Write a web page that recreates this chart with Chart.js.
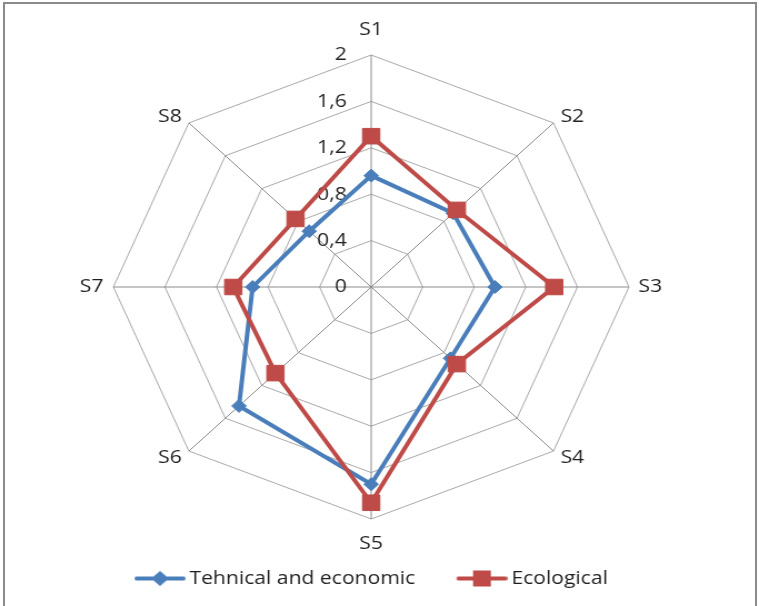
<!DOCTYPE html>
<html>
<head>
<meta charset="utf-8">
<script src="https://cdn.jsdelivr.net/npm/chart.js@4/dist/chart.umd.min.js"></script>
<style>
  html, body { margin: 0; padding: 0; background: #ffffff; overflow: hidden; }
  #wrap { position: relative; width: 759px; height: 606px; }
  #frame {
    position: absolute; left: 3px; top: 2px; width: 754px; height: 700px;
    box-sizing: border-box; border: 2px solid #8a8a8a; border-bottom: none;
    pointer-events: none;
  }
</style>
</head>
<body>
<div id="wrap">
  <!-- drawn at 683 px wide and widened to 759 px by its inline style -->
  <canvas id="chart" width="683" height="606" style="display:block;width:759px;height:606px;"></canvas>
  <div id="frame"></div>
</div>
<script>
const categories = ['S1', 'S2', 'S3', 'S4', 'S5', 'S6', 'S7', 'S8'];
const seriesNames = ['Tehnical and economic', 'Ecological'];
const techEconomic = [0.96, 0.90, 0.96, 0.87, 1.70, 1.45, 0.92, 0.68];
const ecological = [1.30, 0.94, 1.42, 0.94, 1.86, 1.05, 1.07, 0.83];
const ringLabels = ['0', '0,4', '0,8', '1,2', '1,6', '2'];

const BLUE = '#4a7ebb';
const RED = '#be4b48';
const TEXT = '#1f1f1f';
const FONT = 'Open Sans';
const FONT_SIZE = 19;

Chart.defaults.font.family = FONT;

// legend key: a short line with the series marker in the middle
function legendGlyph(color, shape) {
  const c = document.createElement('canvas');
  c.width = 64; c.height = 20;
  const g = c.getContext('2d');
  g.strokeStyle = color; g.lineWidth = 4; g.lineCap = 'round';
  g.beginPath(); g.moveTo(20, 10); g.lineTo(62, 10); g.stroke();
  g.fillStyle = color;
  g.beginPath();
  if (shape === 'diamond') {
    g.moveTo(33, 10); g.lineTo(41, 2.5); g.lineTo(49, 10); g.lineTo(41, 17.5); g.closePath();
  } else {
    g.rect(33, 2, 16, 16);
  }
  g.fill();
  return c;
}
const glyphs = [legendGlyph(BLUE, 'diamond'), legendGlyph(RED, 'square')];

// value labels of the rings, set just left of the vertical spoke
const ringValues = {
  id: 'ringValues',
  beforeDatasetsDraw(chart) {
    const s = chart.scales.r;
    const ctx = chart.ctx;
    ctx.save();
    ctx.font = FONT_SIZE + 'px "' + FONT + '"';
    ctx.fillStyle = TEXT;
    ctx.textAlign = 'right';
    ctx.textBaseline = 'middle';
    s.ticks.forEach((t, i) => {
      const d = s.getDistanceFromCenterForValue(t.value);
      ctx.fillText(ringLabels[i], s.xCenter - 22, s.yCenter - d);
    });
    ctx.restore();
  }
};

// centre the visible legend row (keys carry a blank lead on their left)
const legendShift = {
  id: 'legendShift',
  afterLayout(chart) {
    if (chart.legend) { chart.legend.left -= 6; chart.legend.right -= 6; }
  }
};

const labelPadding = [25, 9, 8.6, 9, 25, 9, 9, 9];

new Chart(document.getElementById('chart'), {
  type: 'radar',
  data: {
    labels: categories,
    datasets: [
      {
        label: seriesNames[0],
        data: techEconomic,
        borderColor: BLUE,
        backgroundColor: BLUE,
        borderWidth: 4,
        fill: false,
        pointStyle: 'rectRot',
        pointRadius: 6.5,
        pointBorderWidth: 1,
        pointBackgroundColor: BLUE,
        pointBorderColor: BLUE,
        order: 1
      },
      {
        label: seriesNames[1],
        data: ecological,
        borderColor: RED,
        backgroundColor: RED,
        borderWidth: 4,
        fill: false,
        pointStyle: 'rect',
        pointRadius: 11,
        pointBorderWidth: 1,
        pointBackgroundColor: RED,
        pointBorderColor: RED,
        order: 0
      }
    ]
  },
  options: {
    responsive: false,
    animation: false,
    devicePixelRatio: 1,
    layout: { padding: { top: 30, bottom: 8, left: 0, right: 15 } },
    scales: {
      r: {
        min: 0,
        max: 2,
        ticks: { stepSize: 0.4, display: false },
        grid: { color: '#a8a8a8', lineWidth: 1 },
        angleLines: { color: '#8c8c8c', lineWidth: 1 },
        pointLabels: {
          color: TEXT,
          font: { family: FONT, size: FONT_SIZE, lineHeight: 0 },
          padding: (ctx) => labelPadding[ctx.index]
        }
      }
    },
    plugins: {
      tooltip: { enabled: false },
      legend: {
        position: 'bottom',
        labels: {
          color: TEXT,
          font: { family: FONT, size: FONT_SIZE },
          usePointStyle: true,
          pointStyleWidth: 52,
          padding: 25,
          generateLabels(chart) {
            const items = Chart.defaults.plugins.legend.labels.generateLabels(chart);
            items.sort((a, b) => a.datasetIndex - b.datasetIndex);
            items.forEach(it => { it.pointStyle = glyphs[it.datasetIndex]; });
            return items;
          }
        }
      }
    }
  },
  plugins: [ringValues, legendShift]
});
</script>
</body>
</html>
